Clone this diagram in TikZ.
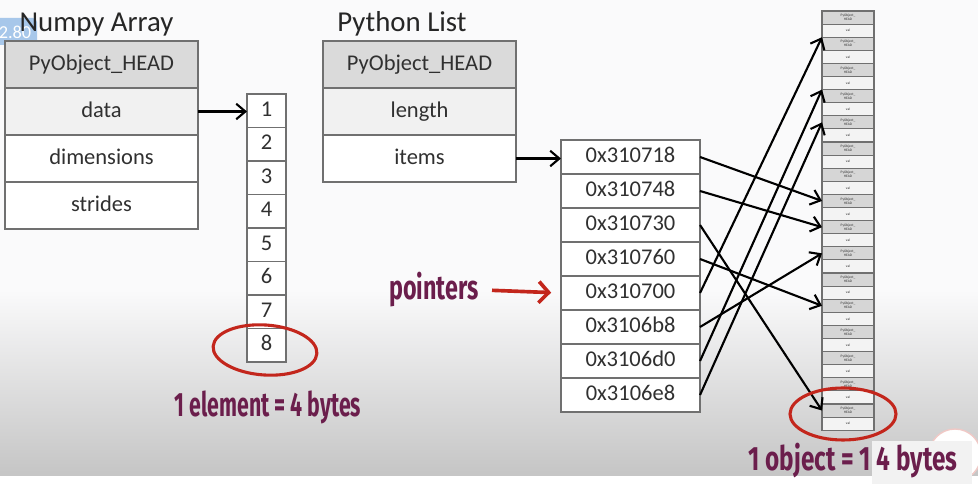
\documentclass[tikz,border=0pt]{standalone}
\usepackage{fontspec}
\setmainfont{Carlito}
\newfontfamily\notefont{Fira Sans}
\usetikzlibrary{arrows.meta, positioning}
\definecolor{cellline}{HTML}{707070}
\definecolor{celltext}{HTML}{303030}
\definecolor{headgray}{HTML}{DADADA}
\definecolor{rowgray}{HTML}{F1F1F1}
\definecolor{objdark}{HTML}{D6D6D6}
\definecolor{objlight}{HTML}{F3F3F3}
\definecolor{notepurple}{HTML}{6B1E4C}
\definecolor{markred}{HTML}{C3261C}
\definecolor{badgeblue}{HTML}{A7C7EA}
\definecolor{bgtop}{HTML}{FAFAFB}
\definecolor{bgbottom}{HTML}{C6C6C6}

\begin{document}
\begin{tikzpicture}[x=0.025cm, y=0.025cm,
  >={Straight Barb[length=6.5pt, width=11pt]},
  every node/.style={text=celltext},
  field/.style={draw=cellline, line width=1.1pt, outer sep=0pt, inner sep=0pt, minimum width=4.825cm, minimum height=1.175cm, text height=11pt, text depth=3pt, font=\fontsize{16}{19}\selectfont},
  elem/.style={field, minimum width=0.975cm, minimum height=0.8375cm},
  addr/.style={field, minimum width=3.475cm, minimum height=0.85cm},
  objrow/.style={draw=cellline, line width=0.8pt, outer sep=0pt, inner sep=0pt, minimum width=1.3cm, minimum height=0.3275cm, align=center, font=\fontsize{2.5}{2.8}\selectfont},
  title/.style={font=\fontsize{20.5}{24}\selectfont, text=black!85, anchor=base},
  note/.style={font=\notefont\bfseries\fontsize{24}{28}\selectfont, text=notepurple},
  ptr/.style={->, line width=1.5pt, black},
  circled/.style={draw=markred, line width=2.2pt},
]

% Background
\useasboundingbox (0,0) rectangle (978,484);
\fill[bgtop] (0,0) rectangle (978,484);
\shade[top color=bgtop, bottom color=bgbottom] (0,12) rectangle (978,194);
\fill[bgbottom] (0,8) rectangle (978,12);
\fill[white] (0,0) rectangle (978,8);

% Player badge
\fill[badgeblue, rounded corners=3pt] (-6,439) rectangle (37,466);
\node[font=\fontsize{13}{15}\selectfont, text=white] (badge) at (15,452) {2.80};

% Titles
\node[title] (nptitle) at (96.5,452) {Numpy Array};
\node[title] (pltitle) at (402,452) {Python List};

% Numpy array
\node[field, fill=headgray] (nphead) at (101.5,419.5) {PyObject\_HEAD};
\node[field, fill=rowgray, below=0pt of nphead] (npdata) {data};
\node[field, fill=white, below=0pt of npdata] (npdims) {dimensions};
\node[field, fill=white, below=0pt of npdims] (npstrides) {strides};

% Data buffer
\foreach \i in {1,...,8}
  \node[elem, fill=white] (el\i) at (266.5,{373.25-33.5*(\i-1)}) {\i};
\draw[ptr] (npdata.east) -- (npdata.east -| el1.west);

% Python list
\node[field, fill=headgray] (plhead) at (419.5,419.5) {PyObject\_HEAD};
\node[field, fill=rowgray, below=0pt of plhead] (pllength) {length};
\node[field, fill=white, below=0pt of pllength] (plitems) {items};

% Pointer array
\foreach \addr [count=\i] in {0x310718,0x310748,0x310730,0x310760,0x310700,0x3106b8,0x3106d0,0x3106e8}
  \node[addr, fill=white] (a\i) at (630.5,{327-34*(\i-1)}) {\addr};
\draw[ptr] (plitems.east) -- (plitems.east -| a1.west);

% Integer objects
\foreach \r in {1,...,32}{
  \ifodd\r
    \node[objrow, fill=objdark] (o\r) at (848,{466.45-13.1*(\r-1)}) {PyObject\_\\HEAD};
  \else
    \node[objrow, fill=objlight] (o\r) at (848,{466.45-13.1*(\r-1)}) {val};
  \fi
}

% Pointers to objects
\foreach \src/\dst/\side in {1/15/west, 2/17/west, 3/31/west, 4/23/west, 5/3/north west, 6/19/west, 7/7/north west, 8/9/west}
  \draw[ptr] (a\src.east) -- (o\dst.\side);

% Annotations
\node[note] (ptrlabel) at (434,194) {\scalebox{0.69}[1]{pointers}};
\draw[markred, line width=2.6pt, -{Straight Barb[length=7pt, width=15pt]}, shorten <=6pt, shorten >=7pt] (ptrlabel.east) -- (a5.west);

\draw[circled, rotate around={-4:(265,134)}] (265,134) ellipse [x radius=52, y radius=25];
\draw[circled] (843,70) ellipse [x radius=53, y radius=26];

\node[note] (elemnote) at (268,77) {\scalebox{0.63}[1]{1 element = 4 bytes}};

\filldraw[fill=white, draw=markred!25, line width=1pt] (955,29) circle [radius=26];
\fill[black!5] (872,0) rectangle (972,43);
\node[note] (objnote) at (853,23) {\scalebox{0.72}[1]{1 object = 1 4 bytes}};

\end{tikzpicture}
\end{document}
